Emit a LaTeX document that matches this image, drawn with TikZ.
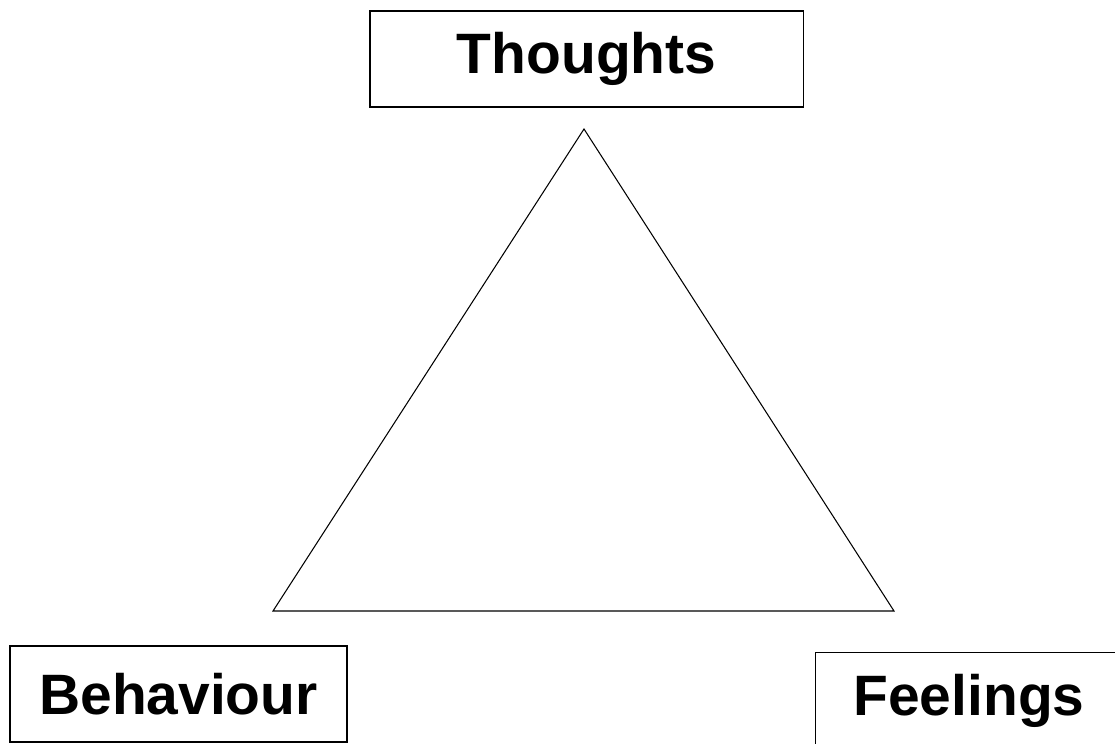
\documentclass[tikz,border=0pt]{standalone}
\usepackage{fontspec}
\setmainfont{Liberation Sans}
\usetikzlibrary{positioning}
\tikzset{
  corner/.style={draw, line width=0.8pt, inner sep=0pt, minimum height=2.4cm, align=center,
                 font=\bfseries\fontsize{40.5}{48}\selectfont}
}

\begin{document}
\begin{tikzpicture}[x=0.025cm, y=-0.025cm]
            \useasboundingbox (0,0) rectangle (1115,743);
            \clip (0,0) rectangle (1115,743);
            \node[corner, minimum width=10.825cm] (thoughts) at (586.5,59) {Thoughts};
            \node[corner, minimum width=8.425cm] (behaviour) at (178.5,694) {Behaviour};
            % box runs off the page: only top and left edges show
            \node[corner, draw=none, minimum width=8cm] (feelings) at (976,701) {Feelings\hspace*{0.35cm}};
            \draw[line width=0.8pt] (feelings.north east) -| (feelings.south west);
            \coordinate (top) at (584,129);
            \coordinate (left) at (273,611);
            \coordinate (right) at (894,611);
            \draw[line width=0.75pt] (top) -- (left) -- (right) -- cycle;
        \end{tikzpicture}
\end{document}
